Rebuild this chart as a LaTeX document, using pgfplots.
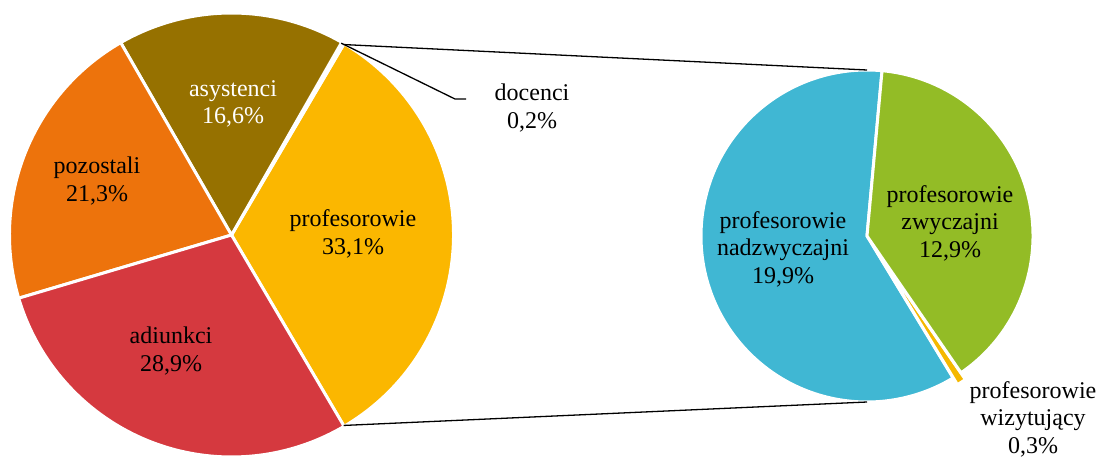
\documentclass[border=0pt]{standalone}
\usepackage{pgfplots}
\pgfplotsset{compat=1.18}
\usepackage{fontspec}
\setmainfont{Liberation Serif}
\definecolor{cProf}{HTML}{FBB700}
\definecolor{cDoc}{HTML}{A5A5A5}
\definecolor{cAsy}{HTML}{967100}
\definecolor{cPoz}{HTML}{ED730C}
\definecolor{cAdi}{HTML}{D5393F}
\definecolor{cNad}{HTML}{40B7D3}
\definecolor{cZwy}{HTML}{93BC26}
\definecolor{cWiz}{HTML}{F5B800}
% data (percent)
\def\vProf{33.1}\def\vDoc{0.2}\def\vAsy{16.6}\def\vPoz{21.3}\def\vAdi{28.9}
\def\vNad{19.9}\def\vWiz{0.3}\def\vZwy{12.9}
\pgfmathsetmacro{\totA}{\vProf+\vDoc+\vAsy+\vPoz+\vAdi}
\pgfmathsetmacro{\kA}{360/\totA}
\pgfmathsetmacro{\aA}{-\vProf*\kA/2}
\pgfmathsetmacro{\aB}{\aA+\vProf*\kA}
\pgfmathsetmacro{\aC}{\aB+\vDoc*\kA}
\pgfmathsetmacro{\aD}{\aC+\vAsy*\kA}
\pgfmathsetmacro{\aE}{\aD+\vPoz*\kA}
\pgfmathsetmacro{\aF}{\aE+\vAdi*\kA}
\pgfmathsetmacro{\totB}{\vNad+\vWiz+\vZwy}
\pgfmathsetmacro{\kB}{360/\totB}
\def\bA{84.8}
\pgfmathsetmacro{\bB}{\bA+\vNad*\kB}
\pgfmathsetmacro{\bC}{\bB+\vWiz*\kB}
\pgfmathsetmacro{\bD}{\bC+\vZwy*\kB}
\pgfmathsetmacro{\bW}{(\bB+\bC)/2}
\newcommand{\slice}[6]{%
  \fill[#6, draw=white, line width=3bp, line join=round] (axis cs:#1,#2) -- ++(#4:#3) arc[start angle=#4, end angle=#5, radius=#3] -- cycle;}
\begin{document}
\begin{tikzpicture}[lbl/.style={font=\fontsize{24bp}{27.5bp}\selectfont, align=center, inner sep=0pt}]
\begin{axis}[
  at={(0,0)}, anchor=south west,
  scale only axis, width=1102bp, height=459bp,
  xmin=0, xmax=1102, ymin=0, ymax=459, y dir=reverse,
  hide axis, clip=false,
]
% main pie
\slice{231.5}{235}{222bp}{\aA}{\aB}{cProf}
\slice{231.5}{235}{222bp}{\aB}{\aC}{cDoc}
\slice{231.5}{235}{222bp}{\aC}{\aD}{cAsy}
\slice{231.5}{235}{222bp}{\aD}{\aE}{cPoz}
\slice{231.5}{235}{222bp}{\aE}{\aF}{cAdi}
% secondary pie
\slice{867}{236}{166bp}{\bA}{\bB}{cNad}
\begin{scope}[shift={(\bW:8bp)}]
\slice{867}{236}{166bp}{\bB}{\bC}{cWiz}
\end{scope}
\slice{867}{236}{166bp}{\bC}{\bD}{cZwy}
% connectors
\draw[black, line width=1.3bp] (axis cs:231.5,235) ++(\aB:221bp) -- (axis cs:867,70);
\draw[black, line width=1.3bp] (axis cs:231.5,235) ++(\aA:221bp) -- (axis cs:867,402);
\draw[black, line width=1.3bp] (axis cs:231.5,235) ++(\aC:221bp) -- (axis cs:455,99) -- (axis cs:466,99);
% labels
\node[lbl, white] at (axis cs:233,104) {asystenci\\16,6\%};
\node[lbl] at (axis cs:97,181) {pozostali\\21,3\%};
\node[lbl] at (axis cs:353,234) {profesorowie\\33,1\%};
\node[lbl] at (axis cs:171,351) {adiunkci\\28,9\%};
\node[lbl] at (axis cs:532,108) {docenci\\0,2\%};
\node[lbl] at (axis cs:783,249) {profesorowie\\nadzwyczajni\\19,9\%};
\node[lbl] at (axis cs:950,223) {profesorowie\\zwyczajni\\12,9\%};
\node[lbl] at (axis cs:1033,419) {profesorowie\\wizytujący\\0,3\%};
\end{axis}
\pgfresetboundingbox
\path (0,0) rectangle (1102bp,459bp);
\end{tikzpicture}
\end{document}
